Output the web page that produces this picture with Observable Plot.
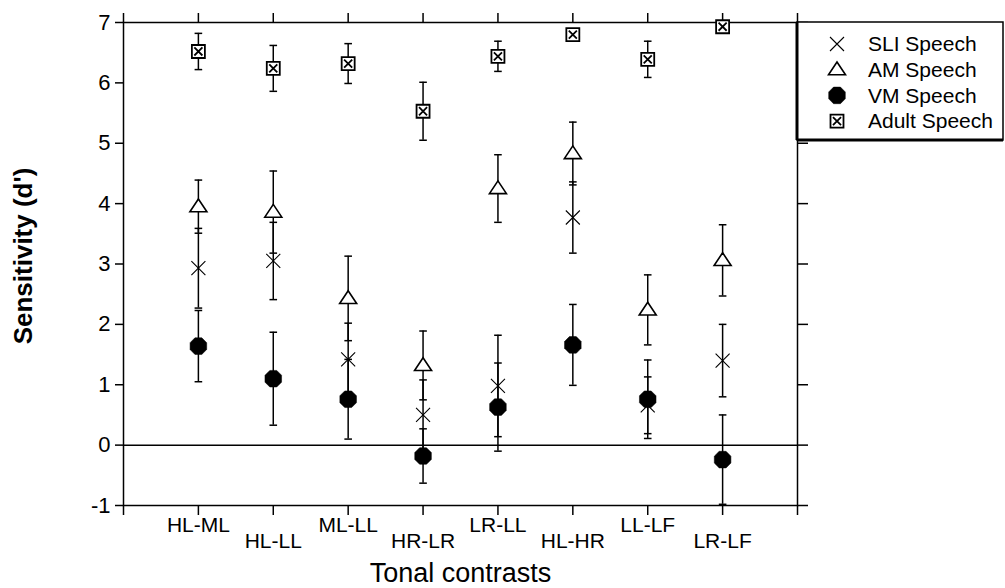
<!DOCTYPE html>
<html><head><meta charset="utf-8">
<script src="https://cdn.jsdelivr.net/npm/d3@7"></script>
<script src="https://cdn.jsdelivr.net/npm/@observablehq/plot@0.6"></script>
<style>
body{margin:0;background:#fff;}
#chart{width:1005px;height:588px;}
</style></head><body><div id="chart"></div>
<script>
// ---- data ----
const contrasts = ["HL-ML","HL-LL","ML-LL","HR-LR","LR-LL","HL-HR","LL-LF","LR-LF"];
const seriesNames = ["SLI Speech","AM Speech","VM Speech","Adult Speech"];
const sliMean   = [2.93, 3.05, 1.42, 0.50, 0.98, 3.77, 0.66, 1.40];
const sliErr    = [0.66, 0.64, 0.60, 0.58, 0.84, 0.59, 0.47, 0.60];
const amMean    = [3.95, 3.86, 2.43, 1.32, 4.25, 4.83, 2.24, 3.06];
const amErr     = [0.44, 0.68, 0.70, 0.57, 0.56, 0.52, 0.58, 0.59];
const vmMean    = [1.64, 1.10, 0.76, -0.18, 0.63, 1.66, 0.76, -0.24];
const vmErr     = [0.59, 0.77, 0.66, 0.45, 0.73, 0.67, 0.65, 0.74];
const adultMean = [6.52, 6.24, 6.32, 5.53, 6.44, 6.80, 6.39, 6.93];
const adultErr  = [0.30, 0.38, 0.33, 0.48, 0.25, 0.00, 0.30, 0.00];
const yTicks = [-1, 0, 1, 2, 3, 4, 5, 6, 7];
const xSlots = [0, 1, 2, 3, 4, 5, 6, 7, 8, 9];

// ---- symbols ----
const rOf = s => Math.sqrt(s / Math.PI);
const symTimes = {draw(c, s){ const r = rOf(s); c.moveTo(-r,-r); c.lineTo(r,r); c.moveTo(-r,r); c.lineTo(r,-r); }};
const symTri = {draw(c, s){ const r = rOf(s); c.moveTo(0,-r*0.9); c.lineTo(r,r*0.6); c.lineTo(-r,r*0.6); c.closePath(); }};
const symBoxX = {draw(c, s){ const r = rOf(s); c.moveTo(-r,-r); c.lineTo(r,-r); c.lineTo(r,r); c.lineTo(-r,r); c.closePath();
  const q = r*0.62; c.moveTo(-q,-q); c.lineTo(q,q); c.moveTo(-q,q); c.lineTo(q,-q); }};
const symCap = {draw(c, s){ const r = rOf(s); c.moveTo(-r,0); c.lineTo(r,0); }};
const symOct = {draw(c, s){ const r = rOf(s); for (let k=0;k<8;k++){ const a = Math.PI/8 + k*Math.PI/4; const px=r*Math.cos(a)/Math.cos(Math.PI/8), py=r*Math.sin(a)/Math.cos(Math.PI/8); k?c.lineTo(px,py):c.moveTo(px,py);} c.closePath(); }};

const styles = {
  "SLI Speech":   {symbol: symTimes, r: 7,   fill: "none",  stroke: "black", sw: 1.1},
  "AM Speech":    {symbol: symTri,   r: 8.5, fill: "white", stroke: "black", sw: 1.6},
  "VM Speech":    {symbol: symOct,   r: 8.3, fill: "black", stroke: "black", sw: 0.5},
  "Adult Speech": {symbol: symBoxX,  r: 6.5, fill: "white", stroke: "black", sw: 1.8}
};

const means = [sliMean, amMean, vmMean, adultMean];
const errs = [sliErr, amErr, vmErr, adultErr];
const rows = [];
seriesNames.forEach((s, k) => contrasts.forEach((c, j) => {
  rows.push({series: s, contrast: c, i: j + 1, mean: means[k][j], err: errs[k][j]});
}));
const errRows = rows.filter(d => d.err > 0);
const capRows = errRows.flatMap(d => [{i: d.i, y: d.mean + d.err}, {i: d.i, y: d.mean - d.err}]);
const labelRows = contrasts.map((c, j) => ({i: j + 1, c}));

const font = "'Liberation Sans', Arial, Helvetica, sans-serif";
const dotMarks = seriesNames.map(s => Plot.dot(rows.filter(d => d.series === s), {
  x: "i", y: "mean", symbol: () => styles[s].symbol, r: styles[s].r,
  fill: styles[s].fill, stroke: styles[s].stroke, strokeWidth: styles[s].sw
}));

const plot = Plot.plot({
  width: 1005, height: 588,
  marginLeft: 123, marginRight: 208, marginTop: 22, marginBottom: 83,
  style: {fontFamily: font, background: "white", overflow: "visible", color: "black"},
  x: {type: "linear", domain: [0, 9]},
  y: {domain: [-1, 7]},
  marks: [
    Plot.frame({stroke: "black", strokeWidth: 1.5}),
    Plot.ruleY([0], {stroke: "black", strokeWidth: 1.5}),
    Plot.axisY({ticks: yTicks, tickSize: 8, tickPadding: 5, fontSize: 22, label: null, strokeWidth: 1.5, tickFormat: d => String(d)}),
    Plot.axisY({anchor: "right", ticks: yTicks, tickSize: 10, label: null, strokeWidth: 1.5, tickFormat: () => ""}),
    Plot.axisX({ticks: xSlots, tickSize: 10, label: null, strokeWidth: 1.5, tickFormat: () => ""}),
    Plot.axisX({anchor: "top", ticks: xSlots, tickSize: 10, label: null, strokeWidth: 1.5, tickFormat: () => ""}),
    Plot.text(labelRows.filter(d => d.i % 2 === 1), {x: "i", text: "c", frameAnchor: "bottom", dy: 20, lineAnchor: "middle", fontSize: 21}),
    Plot.text(labelRows.filter(d => d.i % 2 === 0), {x: "i", text: "c", frameAnchor: "bottom", dy: 36, lineAnchor: "middle", fontSize: 21}),
    Plot.text(["Tonal contrasts"], {frameAnchor: "bottom", dy: 68, lineAnchor: "middle", fontSize: 27}),
    Plot.text(["Sensitivity (d')"], {frameAnchor: "left", textAnchor: "middle", dx: -100, dy: -8, rotate: -90, lineAnchor: "middle", fontSize: 26, fontWeight: "bold"}),
    Plot.ruleX(errRows, {x: "i", y1: d => d.mean - d.err, y2: d => d.mean + d.err, stroke: "black", strokeWidth: 1.5}),
    Plot.dot(capRows, {x: "i", y: "y", symbol: () => symCap, r: 3.8, stroke: "black", strokeWidth: 1.5}),
    ...dotMarks
  ]
});

// legend inside the chart, top-right
const svg = d3.select(plot);
const lg = svg.append("g").attr("font-family", font).attr("font-size", 21).attr("text-anchor", "start");
const lx = 797, ly = 22, lw = 206, lh = 118;
lg.append("rect").attr("x", lx).attr("y", ly).attr("width", lw).attr("height", lh).attr("fill", "white").attr("stroke", "black").attr("stroke-width", 1.5);
lg.append("line").attr("x1", lx).attr("x2", lx).attr("y1", ly).attr("y2", ly + lh).attr("stroke", "black").attr("stroke-width", 3);
lg.append("line").attr("x1", lx).attr("x2", lx + lw).attr("y1", ly + lh).attr("y2", ly + lh).attr("stroke", "black").attr("stroke-width", 3);
seriesNames.forEach((s, k) => {
  const st = styles[s];
  const cy = ly + 22 + k * 25.7;
  lg.append("path").attr("transform", `translate(${lx + 40},${cy})`)
    .attr("d", d3.symbol(st.symbol, Math.PI * st.r * st.r)())
    .attr("fill", st.fill).attr("stroke", st.stroke).attr("stroke-width", st.sw);
  lg.append("text").attr("x", lx + 71).attr("y", cy).attr("dy", "0.35em").attr("text-anchor", "start").text(s);
});

document.getElementById("chart").appendChild(plot);
</script>
</body></html>
